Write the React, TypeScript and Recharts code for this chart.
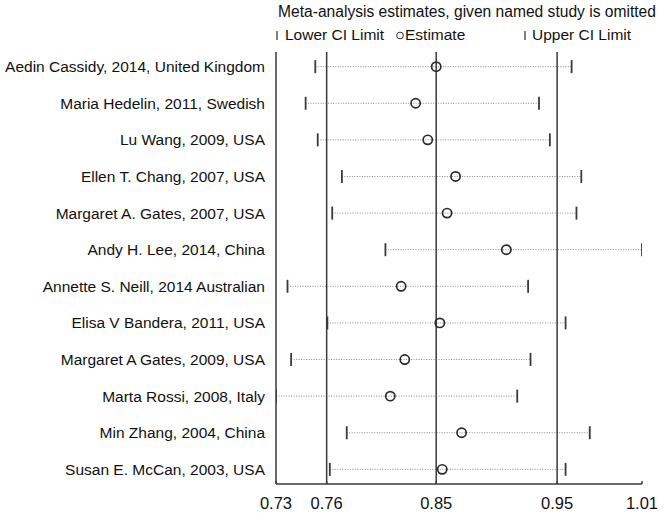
import React from 'react';
import { ScatterChart, Scatter, XAxis, YAxis, ReferenceLine } from 'recharts';

const studies = [
  'Aedin Cassidy, 2014, United Kingdom',
  'Maria Hedelin, 2011, Swedish',
  'Lu Wang, 2009, USA',
  'Ellen T. Chang, 2007, USA',
  'Margaret A. Gates, 2007, USA',
  'Andy H. Lee, 2014, China',
  'Annette S. Neill, 2014 Australian',
  'Elisa V Bandera, 2011, USA',
  'Margaret A Gates, 2009, USA',
  'Marta Rossi, 2008, Italy',
  'Min Zhang, 2004, China',
  'Susan E. McCan, 2003, USA',
];
const lowerCI = [0.750, 0.742, 0.752, 0.772, 0.764, 0.808, 0.727, 0.760, 0.730, 0.7175, 0.776, 0.762];
const estimate = [0.850, 0.833, 0.843, 0.866, 0.859, 0.908, 0.821, 0.853, 0.824, 0.812, 0.871, 0.855];
const upperCI = [0.962, 0.935, 0.944, 0.970, 0.966, 1.0202, 0.926, 0.957, 0.928, 0.917, 0.977, 0.957];
const overallLines = [0.7594, 0.85, 0.95];
const xTicks = [0.7175, 0.7594, 0.85, 0.95, 1.0202];
const xTickLabels = ['0.73', '0.76', '0.85', '0.95', '1.01'];
const titleText = 'Meta-analysis estimates, given named study is omitted';
const legendLabels = ['Lower CI Limit', 'Estimate', 'Upper CI Limit'];

const FONT = '"Liberation Sans", Arial, sans-serif';
const DARK = '#3a3a3a';
const FS = 15.5;

const rows = studies.map((s, i) => ({ name: s, row: i + 1, lo: lowerCI[i], est: estimate[i], hi: upperCI[i] }));
const loData = rows.map(r => ({ x: r.lo, y: r.row }));
const estData = rows.map(r => ({ x: r.est, y: r.row }));
const hiData = rows.map(r => ({ x: r.hi, y: r.row }));

const CITick = (props: any) => {
  const { cx, cy } = props;
  if (cx == null || cy == null) return null;
  return <line x1={cx} x2={cx} y1={cy - 6.5} y2={cy + 6.5} stroke={DARK} strokeWidth={1.8} />;
};
const EstCircle = (props: any) => {
  const { cx, cy } = props;
  if (cx == null || cy == null) return null;
  return <circle cx={cx} cy={cy} r={4.6} fill="none" stroke="#2a2a2a" strokeWidth={1.7} />;
};

const txt: React.CSSProperties = { position: 'absolute', fontSize: FS, color: '#111', whiteSpace: 'nowrap', lineHeight: '18px' };

export default function App() {
  return (
    <div style={{ position: 'absolute', left: 0, top: 0, width: 664, height: 514, background: '#fff', fontFamily: FONT }}>
      <div style={{ ...txt, fontSize: 15.6, left: 267, top: 3, width: 400, textAlign: 'center' }}>{titleText}</div>
      <svg style={{ position: 'absolute', left: 274, top: 27 }} width={8} height={16}>
        <line x1={3} x2={3} y1={4} y2={13} stroke={DARK} strokeWidth={1.3} />
      </svg>
      <div style={{ ...txt, left: 285, top: 26 }}>{legendLabels[0]}</div>
      <svg style={{ position: 'absolute', left: 395, top: 27 }} width={10} height={16}>
        <circle cx={5} cy={8.5} r={3.2} fill="none" stroke={DARK} strokeWidth={1.1} />
      </svg>
      <div style={{ ...txt, left: 405, top: 26 }}>{legendLabels[1]}</div>
      <svg style={{ position: 'absolute', left: 521, top: 27 }} width={8} height={16}>
        <line x1={4} x2={4} y1={4} y2={13} stroke={DARK} strokeWidth={1.3} />
      </svg>
      <div style={{ ...txt, left: 532, top: 26 }}>{legendLabels[2]}</div>
      <ScatterChart width={664} height={514} margin={{ top: 52, right: 22, bottom: 0, left: 0 }}>
        <XAxis
          type="number"
          dataKey="x"
          domain={[xTicks[0], xTicks[xTicks.length - 1]]}
          ticks={xTicks}
          tickFormatter={(v: number) => xTickLabels[xTicks.indexOf(v)] ?? ''}
          height={30}
          axisLine={{ stroke: DARK, strokeWidth: 1.5 }}
          tickLine={{ stroke: DARK, strokeWidth: 1.5 }}
          tickSize={-3}
          tickMargin={16}
          tick={{ fill: '#111', fontSize: 16.5, fontFamily: FONT }}
          allowDataOverflow
        />
        <YAxis
          type="number"
          dataKey="y"
          domain={[0.6, 12.4]}
          reversed
          ticks={rows.map(r => r.row)}
          tickFormatter={(v: number) => studies[v - 1] ?? ''}
          width={276}
          axisLine={{ stroke: DARK, strokeWidth: 1.5 }}
          tickLine={false}
          tickMargin={5}
          interval={0}
          tick={{ fill: '#111', fontSize: FS, fontFamily: FONT }}
          allowDataOverflow
        />
        {rows.map(r => (
          <ReferenceLine
            key={'seg' + r.row}
            segment={[{ x: r.lo, y: r.row }, { x: r.hi, y: r.row }]}
            stroke="#8a8a8a"
            strokeWidth={1}
            strokeDasharray="1 1.5"
            ifOverflow="visible"
          />
        ))}
        {overallLines.map(v => (
          <ReferenceLine key={'ov' + v} x={v} stroke={DARK} strokeWidth={1.5} ifOverflow="visible" />
        ))}
        <Scatter data={loData} shape={CITick} isAnimationActive={false} />
        <Scatter data={hiData} shape={CITick} isAnimationActive={false} />
        <Scatter data={estData} shape={EstCircle} isAnimationActive={false} />
      </ScatterChart>
    </div>
  );
}
